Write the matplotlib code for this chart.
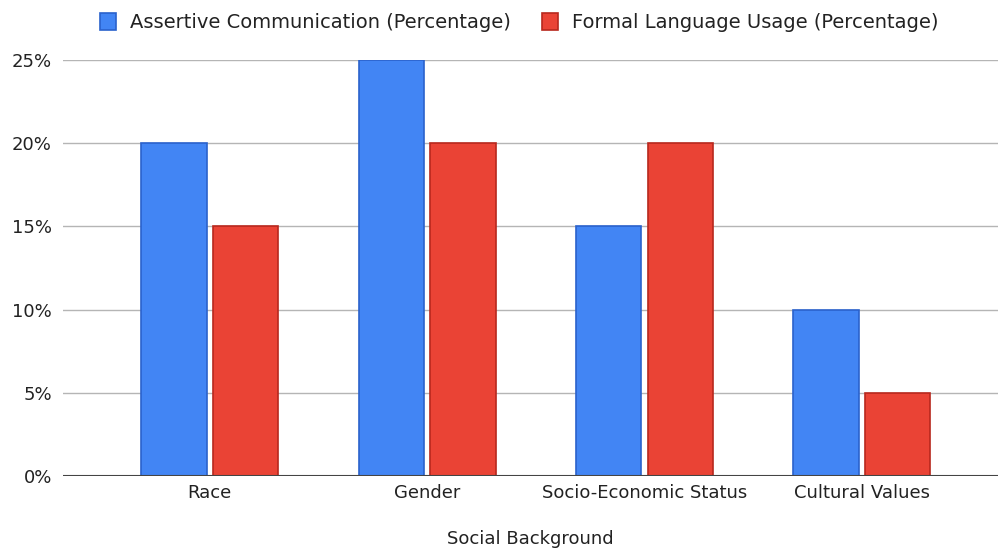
import numpy as np
import matplotlib.pyplot as plt
from matplotlib.ticker import FuncFormatter

categories = ["Race", "Gender", "Socio-Economic Status", "Cultural Values"]
assertive = [20, 25, 15, 10]
formal = [15, 20, 20, 5]
series_names = ["Assertive Communication (Percentage)", "Formal Language Usage (Percentage)"]

plt.rcParams["font.family"] = ["DejaVu Sans"]

fig = plt.figure(figsize=(9.98, 5.53), dpi=100)
ax = fig.add_axes([0.063, 0.139, 0.937, 0.7525])

x = np.arange(len(categories))
w = 0.3
off = 0.165
b1 = ax.bar(x - off, assertive, w, color="#4285F4", edgecolor="#2a62cc", linewidth=1.2,
            label=series_names[0], zorder=3)
b2 = ax.bar(x + off, formal, w, color="#EA4335", edgecolor="#b8281d", linewidth=1.2,
            label=series_names[1], zorder=3)

ax.set_xlim(-0.676, 3.626)
ax.set_ylim(0, 25)
ax.set_yticks([0, 5, 10, 15, 20, 25])
ax.yaxis.set_major_formatter(FuncFormatter(lambda v, p: f"{int(v)}%"))
ax.grid(axis="y", color="#b5b5b5", linewidth=1, zorder=0)
ax.axhline(0, color="#444444", linewidth=1.5, zorder=4)
for s in ax.spines.values():
    s.set_visible(False)
ax.tick_params(axis="both", length=0, labelsize=13, colors="#222222")
ax.tick_params(axis="y", pad=8)
ax.tick_params(axis="x", pad=6)
ax.set_xticks(x)
ax.set_xticklabels(categories)
ax.set_xlabel("Social Background", fontsize=13, color="#222222", labelpad=20)

fig.legend(handles=[b1, b2], loc="upper center", bbox_to_anchor=(0.52, 1.008), ncol=2,
           frameon=False, fontsize=14, handlelength=0.85, handleheight=1.0,
           columnspacing=1.6, handletextpad=0.7, labelcolor="#222222")

fig.savefig("out.png", dpi=100)
